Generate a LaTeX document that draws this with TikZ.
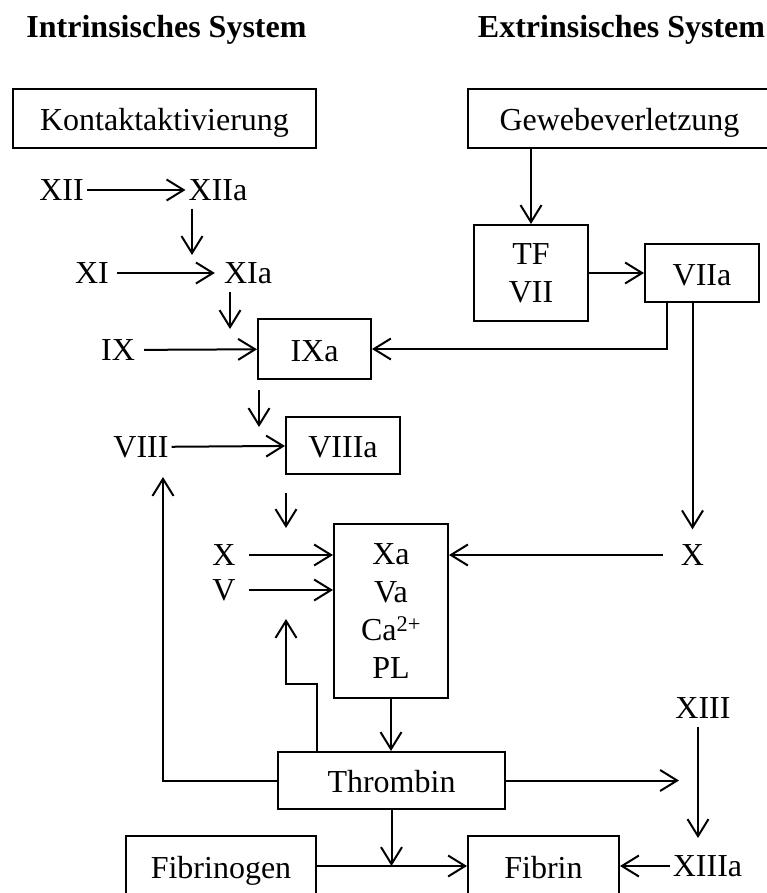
\documentclass[tikz,border=0pt]{standalone}
\usepackage{fontspec}
\setmainfont{Liberation Serif}
\usepackage{tikz}
\usetikzlibrary{arrows.meta}

\newcommand{\diafont}{\fontsize{32pt}{38pt}\selectfont}
\tikzset{
    box/.style={draw, line width=2pt, inner sep=0pt, text height=24pt, text depth=0pt},
    tallbox/.style={draw, line width=2pt, inner sep=0pt, align=center},
    lbl/.style={inner sep=3pt},
    title/.style={anchor=base, inner sep=3pt, font=\diafont\bfseries},
    arr/.style={line width=2pt, -{Straight Barb[length=17pt,width=21pt]}},
}

\begin{document}
\begin{tikzpicture}[x=1pt, y=-1pt, font=\diafont]
        \useasboundingbox (0,0) rectangle (767,893);
        % Titles
        \node[title] (titleI) at (166.5,38) {Intrinsisches System};
        \node[title] (titleE) at (621.5,38) {Extrinsisches System};
        % Boxes
        \node[box, minimum width=303pt, minimum height=59pt] (kontakt) at (164.5,118.5) {Kontaktaktivierung};
        \node[box, minimum width=303pt, minimum height=59pt] (gewebe) at (619.5,118.5) {Gewebeverletzung};
        \node[tallbox, minimum width=114pt, minimum height=96pt] (tfvii) at (531,273) {TF\\VII};
        \node[box, minimum width=114pt, minimum height=58pt] (viia) at (702,273) {VIIa};
        \node[box, minimum width=113pt, minimum height=60pt] (ixa) at (314.5,349) {IXa};
        \node[box, minimum width=114pt, minimum height=57pt] (viiia) at (343,445.5) {VIIIa};
        \node[tallbox, minimum width=114pt, minimum height=174pt] (xa) at (391,611) {Xa\\Va\\Ca\textsuperscript{2+}\\PL};
        \node[box, minimum width=227pt, minimum height=57pt] (thrombin) at (391.5,780.5) {Thrombin};
        \node[box, minimum width=190pt, minimum height=60pt] (fibrinogen) at (221,866) {Fibrinogen};
        \node[box, minimum width=151pt, minimum height=60pt] (fibrin) at (543.5,866) {Fibrin};
        % Factors
        \node[lbl] (xii) at (61.5,190) {XII};
        \node[lbl] (xiia) at (218,190) {XIIa};
        \node[lbl] (xi) at (92,273) {XI};
        \node[lbl] (xia) at (248,273) {XIa};
        \node[lbl] (ix) at (118,350) {IX};
        \node[lbl] (viii) at (141,447) {VIII};
        \node[lbl] (xl) at (224,555) {X};
        \node[lbl] (vl) at (224,590) {V};
        \node[lbl] (xr) at (692.5,555) {X};
        \node[lbl] (xiii) at (703,708) {XIII};
        \node[lbl] (xiiia) at (707.5,866) {XIIIa};
        % Free arrow ends
        \coordinate (c12) at (192,255);
        \coordinate (c11) at (230,329);
        \coordinate (c9) at (259,427);
        \coordinate (c8) at (286,528);
        \coordinate (v7) at (667,349);
        \coordinate (fbA) at (317,684);
        \coordinate (fbB) at (286,619);
        \coordinate (fbC) at (163,477);
        \coordinate (fbE) at (679,780.5);
        \coordinate (c13) at (698,838);
        % Intrinsic path
        \draw[arr] (xii) -- (xiia);
        \draw[arr, shorten <=5pt] (xiia.south -| c12) -- (c12);
        \draw[arr, shorten <=5pt, shorten >=6pt] (xi) -- (xia);
        \draw[arr, shorten <=5pt] (xia.south -| c11) -- (c11);
        \draw[arr, shorten <=6pt] (ix) -- (ixa);
        \draw[arr, shorten <=10pt] (ixa.south -| c9) -- (c9);
        \draw[arr] (viii) -- (viiia);
        \draw[arr, shorten <=18pt] (viiia.south -| c8) -- (c8);
        \draw[arr, shorten <=10pt] (xl) -- (xl -| xa.west);
        \draw[arr, shorten <=10pt] (vl) -- (vl -| xa.west);
        % Extrinsic path
        \draw[arr] (gewebe.south -| tfvii) -- (tfvii);
        \draw[arr] (tfvii) -- (viia);
        \draw[arr] (viia.south -| v7) |- (ixa.east);
        \draw[arr, shorten >=12pt] (viia.south -| xr) -- (xr);
        \draw[arr, shorten <=15pt] (xr) -- (xr -| xa.east);
        % Thrombin
        \draw[arr] (xa.south) -- (xa.south |- thrombin.north);
        \draw[arr] (thrombin.north -| fbA) -- (fbA) -| (fbB);
        \draw[arr] (thrombin.west) -| (fbC);
        \draw[arr] (thrombin.east) -- (fbE);
        \draw[arr] (thrombin.south) -- (thrombin.south |- fibrin.west);
        \draw[arr, shorten <=5pt] (xiii.south -| c13) -- (c13);
        \draw[arr] (xiiia.west) -- (xiiia.west -| fibrin.east);
        \draw[arr] (fibrinogen) -- (fibrin);
\end{tikzpicture}
\end{document}
